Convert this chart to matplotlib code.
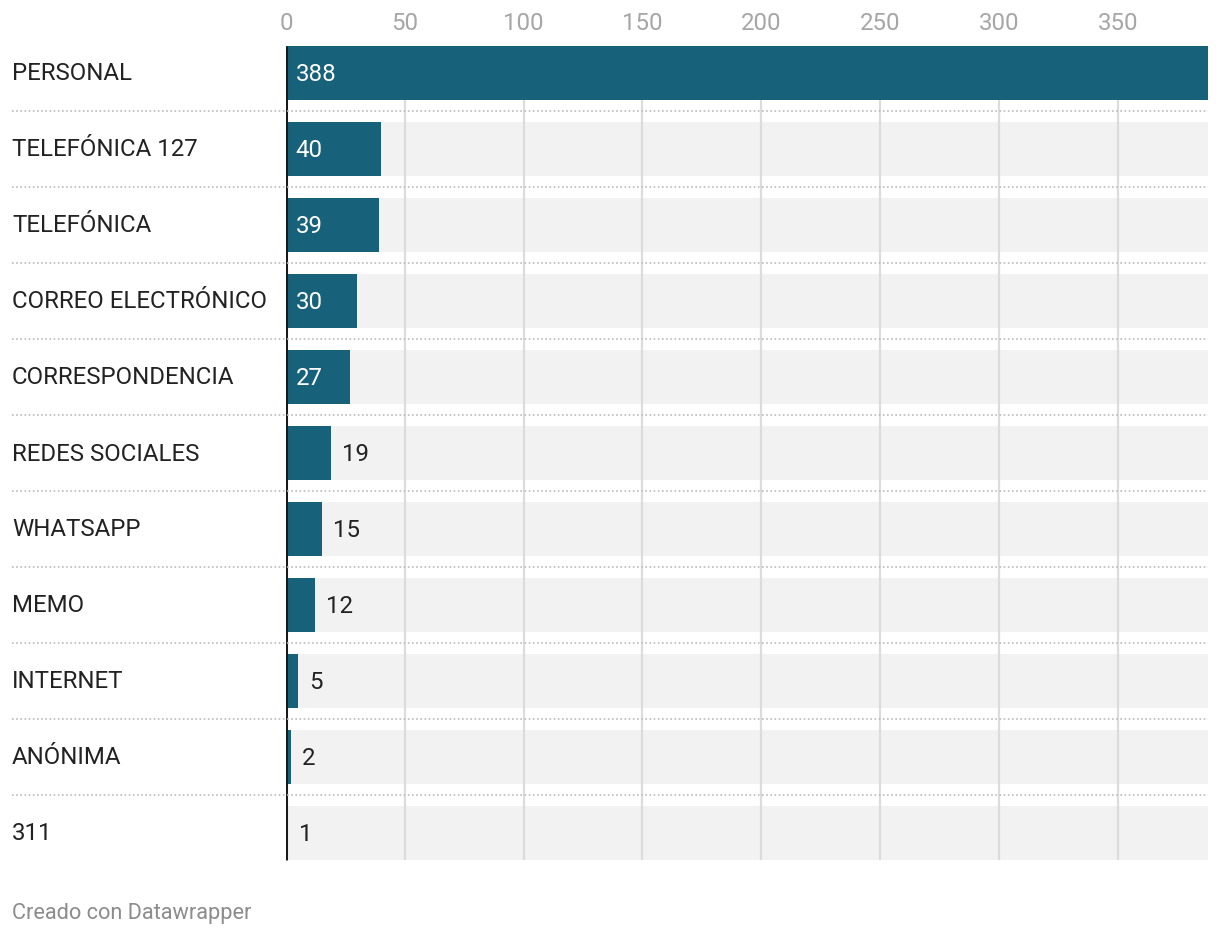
import matplotlib.pyplot as plt

# datos
categorias = ["PERSONAL", "TELEFÓNICA 127", "TELEFÓNICA", "CORREO ELECTRÓNICO",
              "CORRESPONDENCIA", "REDES SOCIALES", "WHATSAPP", "MEMO",
              "INTERNET", "ANÓNIMA", "311"]
valores = [388, 40, 39, 30, 27, 19, 15, 12, 5, 2, 1]
ticks = [0, 50, 100, 150, 200, 250, 300, 350]

plt.rcParams['font.family'] = ['Roboto', 'DejaVu Sans']

W, H = 1220, 936
fig = plt.figure(figsize=(W / 100, H / 100), dpi=100)

left, right = 286, 1208
top, bottom = 35, 871
ax = fig.add_axes([left / W, (H - bottom) / H, (right - left) / W, (bottom - top) / H])

n = len(categorias)
xmax = max(valores)
ax.set_xlim(0, xmax)
ax.set_ylim(n - 0.5, -0.5)

alto = 0.71
pos = list(range(n))
fs = 17.3

# fondo gris
ax.barh(pos, [xmax] * n, height=alto, color="#f2f2f2", zorder=1)
# cuadrícula
ax.vlines(ticks[1:], -alto / 2, n - 1 + alto / 2, color="#dcdcdc", lw=1.6, zorder=2)
# barras
ax.barh(pos, valores, height=alto, color="#17627a", zorder=3)
# eje
ax.vlines(0, -alto / 2, n - 1 + alto / 2, color="#1a1a1a", lw=2.2, zorder=4)

for i, v in enumerate(valores):
    if v >= 25:
        ax.annotate(str(v), (0, i), xytext=(7, -1), textcoords="offset points",
                    va="center", ha="left", color="white", fontsize=fs, zorder=5)
    else:
        ax.annotate(str(v), (v, i), xytext=(8, -1), textcoords="offset points",
                    va="center", ha="left", color="#222222", fontsize=fs, zorder=5)

# separadores punteados
for i in range(n - 1):
    y = top + 76 * (i + 1)
    fig.add_artist(plt.Line2D([12 / W, right / W], [(H - y) / H, (H - y) / H],
                              color="#bbbbbb", lw=1.2, ls=(0, (1, 1.5))))

# etiquetas de categorías
for i, c in enumerate(categorias):
    y = top + 39 + 76 * i
    fig.text(12 / W, (H - y) / H, c, ha="left", va="center",
             fontsize=fs, color="#222222")

ax.set_xticks(ticks)
ax.set_xticklabels([str(t) for t in ticks])
ax.xaxis.tick_top()
ax.tick_params(axis="x", length=0, pad=0, labelsize=fs, labelcolor="#a6a6a6")
ax.set_yticks([])
for s in ax.spines.values():
    s.set_visible(False)

fig.text(12 / W, (H - 913) / H, "Creado con Datawrapper", ha="left", va="center",
         fontsize=15.7, color="#8c8c8c")

fig.savefig("out.png", dpi=100)
